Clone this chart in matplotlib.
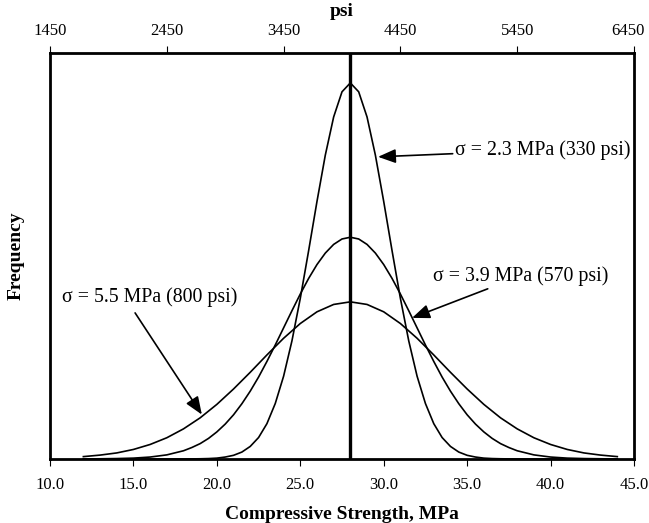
import matplotlib.pyplot as plt
from matplotlib.transforms import ScaledTranslation

# Compressive strength (MPa) points for each curve
strength_23 = [12, 13, 14, 15, 16, 17, 18, 19, 19.5, 20, 20.5, 21, 21.5, 22, 22.5,
               23, 23.5, 24, 24.5, 25, 25.5, 26, 26.5, 27, 27.5, 28, 28.5, 29,
               29.5, 30, 30.5, 31, 31.5, 32, 32.5, 33, 33.5, 34, 34.5, 35, 35.5,
               36, 36.5, 37, 38, 39, 40, 41, 42, 43, 44]
strength_39 = [12, 13, 14, 15, 16, 17, 18, 18.5, 19, 19.5, 20, 20.5, 21, 21.5, 22,
               22.5, 23, 23.5, 24, 24.5, 25, 25.5, 26, 26.5, 27, 27.5, 28, 28.5,
               29, 29.5, 30, 30.5, 31, 31.5, 32, 32.5, 33, 33.5, 34, 34.5, 35,
               35.5, 36, 36.5, 37, 37.5, 38, 39, 40, 41, 42, 43, 44]
strength_55 = [12, 13, 14, 15, 16, 17, 18, 19, 20, 21, 22, 23, 24, 25, 26, 27, 28,
               29, 30, 31, 32, 33, 34, 35, 36, 37, 38, 39, 40, 41, 42, 43, 44]

# Frequency
freq_23 = [0.0000, 0.0000, 0.0000, 0.0000, 0.0000, 0.0000, 0.0000, 0.0001, 0.0002,
           0.0004, 0.0009, 0.0017, 0.0032, 0.0058, 0.0099, 0.0163, 0.0256,
           0.0382, 0.0545, 0.0741, 0.0961, 0.1188, 0.1402, 0.1578, 0.1694,
           0.1735, 0.1694, 0.1578, 0.1402, 0.1188, 0.0961, 0.0741, 0.0545,
           0.0382, 0.0256, 0.0163, 0.0099, 0.0058, 0.0032, 0.0017, 0.0009,
           0.0004, 0.0002, 0.0001, 0.0000, 0.0000, 0.0000, 0.0000, 0.0000,
           0.0000, 0.0000]
freq_39 = [0.0000, 0.0001, 0.0002, 0.0004, 0.0009, 0.0019, 0.0038, 0.0053, 0.0071,
           0.0095, 0.0125, 0.0161, 0.0204, 0.0255, 0.0313, 0.0378, 0.0450,
           0.0526, 0.0605, 0.0684, 0.0761, 0.0833, 0.0897, 0.0950, 0.0990,
           0.1015, 0.1023, 0.1015, 0.0990, 0.0950, 0.0897, 0.0833, 0.0761,
           0.0684, 0.0605, 0.0526, 0.0450, 0.0378, 0.0313, 0.0255, 0.0204,
           0.0161, 0.0125, 0.0095, 0.0071, 0.0053, 0.0038, 0.0019, 0.0009,
           0.0004, 0.0002, 0.0001, 0.0000]
freq_55 = [0.0011, 0.0018, 0.0028, 0.0044, 0.0067, 0.0098, 0.0139, 0.0190, 0.0252,
           0.0323, 0.0400, 0.0480, 0.0557, 0.0625, 0.0679, 0.0713, 0.0725,
           0.0713, 0.0679, 0.0625, 0.0557, 0.0480, 0.0400, 0.0323, 0.0252,
           0.0190, 0.0139, 0.0098, 0.0067, 0.0044, 0.0028, 0.0018, 0.0011]

mean_strength = 28
x_ticks = [10, 15, 20, 25, 30, 35, 40, 45]
psi_ticks = [1450, 2450, 3450, 4450, 5450, 6450]

plt.rcParams['font.family'] = ['Liberation Serif', 'DejaVu Serif']


def mpa_to_psi(v):
    return 1450 + (v - 10) * 1000.0 / 7.0


def psi_to_mpa(v):
    return 10 + (v - 1450) * 7.0 / 1000.0


fig = plt.figure(figsize=(6.49, 5.23), dpi=100)
ax = fig.add_axes([50 / 649, 1 - 459 / 523, 584 / 649, 406 / 523])

# the three curves
ax.plot(strength_23, freq_23, color='black', linewidth=1.2)
ax.plot(strength_39, freq_39, color='black', linewidth=1.2)
ax.plot(strength_55, freq_55, color='black', linewidth=1.2)

# mean line
ax.axvline(mean_strength, color='black', linewidth=2.4)

ax.set_xlim(10, 45)
ax.set_ylim(0, 0.1873)
ax.set_xticks(x_ticks)
ax.set_xticklabels(['%.1f' % t for t in x_ticks], fontsize=12)
ax.set_yticks([])
ax.tick_params(axis='x', direction='out', length=5, width=0.8, pad=8)
for s in ax.spines.values():
    s.set_linewidth(2.0)

ax.set_xlabel('Compressive Strength, MPa', fontsize=14, fontweight='bold', labelpad=9)
ax.set_ylabel('Frequency', fontsize=14, fontweight='bold', labelpad=18)

# psi axis on top
top = ax.secondary_xaxis('top', functions=(mpa_to_psi, psi_to_mpa))
top.set_xticks(psi_ticks)
top.set_xticklabels([str(t) for t in psi_ticks], fontsize=12)
top.tick_params(direction='out', length=5, width=0.8, pad=5)
top.set_xlabel('psi', fontsize=14, fontweight='bold', labelpad=5)
# keep the last psi label inside the picture
last = top.get_xticklabels()[-1]
last.set_transform(last.get_transform() + ScaledTranslation(-6 / 100, 0, fig.dpi_scale_trans))

# annotations
arrow = dict(arrowstyle='-|>,head_length=0.75,head_width=0.3', color='black',
             linewidth=1.2, shrinkA=0, shrinkB=0)
ax.annotate('σ = 2.3 MPa (330 psi)', xy=(29.66, 0.1394), xytext=(34.3, 0.1426),
            fontsize=14.3, va='center', ha='left', arrowprops=arrow)
ax.annotate('σ = 3.9 MPa (570 psi)', xy=(31.7, 0.0651), xytext=(32.95, 0.0798),
            fontsize=14.3, va='bottom', ha='left', arrowprops=arrow)
ax.text(16.0, 0.0748, 'σ = 5.5 MPa (800 psi)', fontsize=14.3, ha='center', va='center')
ax.annotate('', xy=(19.1, 0.0205), xytext=(15.1, 0.0674),
            arrowprops=dict(arrow, mutation_scale=14.3))

fig.savefig('out.png', dpi=100)
